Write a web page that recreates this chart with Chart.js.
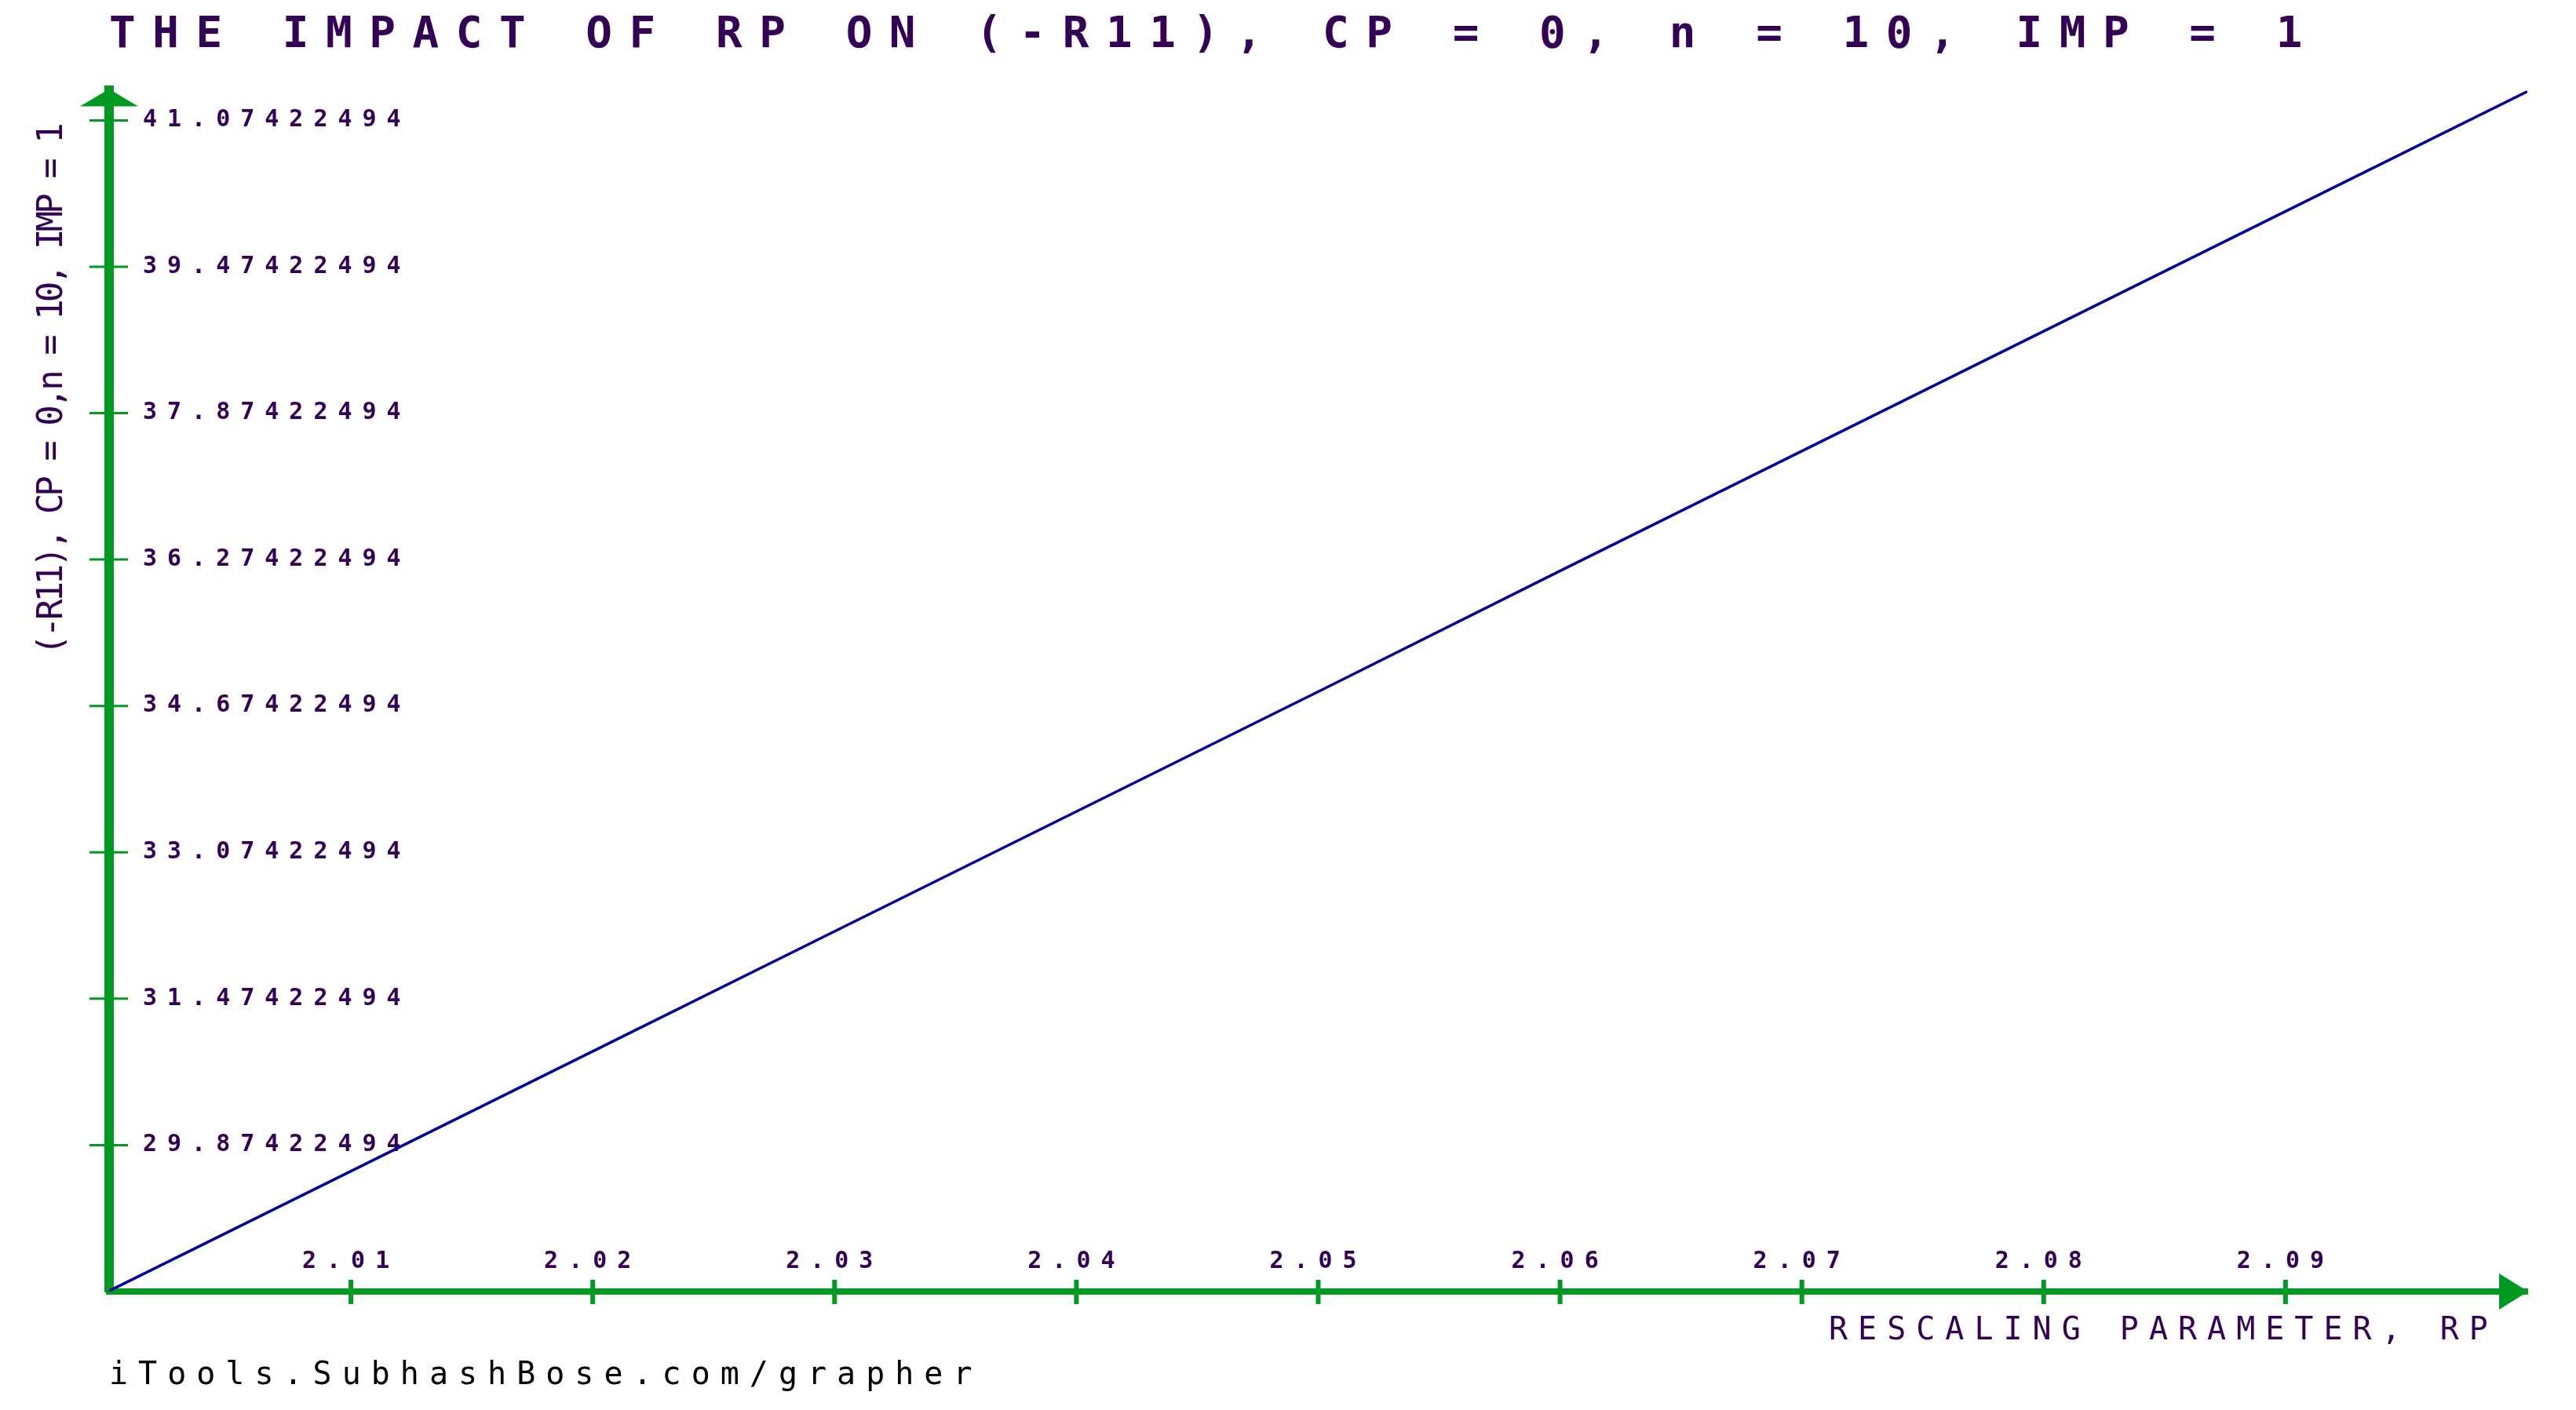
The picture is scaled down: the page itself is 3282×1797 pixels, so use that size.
<!DOCTYPE html>
<html>
<head>
<meta charset="utf-8">
<title>The impact of RP on (-R11)</title>
<script src="https://cdn.jsdelivr.net/npm/chart.js@4.4.1/dist/chart.umd.min.js"></script>
<style>
  html, body { margin: 0; padding: 0; background: #fff; }
  #wrap { width: 3282px; height: 1797px; }
</style>
</head>
<body>
<div id="wrap"><canvas id="grapher" width="3282" height="1797"></canvas></div>
<script>
// RP at each x tick and (-R11)
const rpValues = [2.00, 2.01, 2.02, 2.03, 2.04, 2.05, 2.06, 2.07, 2.08, 2.09, 2.10];
const r11Values = [28.28, 29.59, 30.90, 32.21, 33.52, 34.83, 36.15, 37.46, 38.77, 40.08, 41.39];

const xTickValues = [2.01, 2.02, 2.03, 2.04, 2.05, 2.06, 2.07, 2.08, 2.09];
const xTickLabels = ["2.01", "2.02", "2.03", "2.04", "2.05", "2.06", "2.07", "2.08", "2.09"];
const yTickValues = [29.87422494, 31.47422494, 33.07422494, 34.67422494, 36.27422494, 37.87422494, 39.47422494, 41.07422494];
const yTickLabels = ["29.87422494", "31.47422494", "33.07422494", "34.67422494", "36.27422494", "37.87422494", "39.47422494", "41.07422494"];

const purple = "#330055";
const green = "#009922";
const navy = "#000099";

Chart.defaults.font.family = '"DejaVu Sans Mono", monospace';

// the grapher draws a wide pixel font, so widen the glyphs with letter spacing (px, by font size)
const letterSpacing = { 56: 21.5, 44: -4 };
const pixelFont = {
  id: "pixelFont",
  beforeInit(chart) {
    const ctx = chart.ctx;
    const fillText = ctx.fillText;
    ctx.fillText = function () {
      const size = parseFloat(/([\d.]+)px/.exec(this.font)[1]);
      this.letterSpacing = (letterSpacing[size] ?? 13) + "px";
      return fillText.apply(this, arguments);
    };
  }
};

// tick marks crossing the axes and the arrow heads
const axisMarks = {
  id: "axisMarks",
  afterDraw(chart) {
    const { ctx, scales: { x, y } } = chart;
    ctx.save();
    ctx.strokeStyle = green;
    ctx.fillStyle = green;

    ctx.lineWidth = 3;
    y.ticks.forEach(t => {
      const py = y.getPixelForValue(t.value);
      ctx.beginPath();
      ctx.moveTo(y.right - 25, py);
      ctx.lineTo(y.right + 24, py);
      ctx.stroke();
    });

    ctx.lineWidth = 6;
    x.ticks.forEach(t => {
      const px = x.getPixelForValue(t.value);
      ctx.beginPath();
      ctx.moveTo(px, x.top - 15);
      ctx.lineTo(px, x.top + 16);
      ctx.stroke();
    });

    ctx.beginPath();
    ctx.moveTo(y.right, y.top - 2);
    ctx.lineTo(y.right + 37, y.top + 20);
    ctx.lineTo(y.right - 37, y.top + 20);
    ctx.closePath();
    ctx.fill();

    ctx.beginPath();
    ctx.moveTo(x.right + 1, x.top);
    ctx.lineTo(x.right - 36, x.top - 23);
    ctx.lineTo(x.right - 36, x.top + 23);
    ctx.closePath();
    ctx.fill();
    ctx.restore();
  }
};

new Chart(document.getElementById("grapher"), {
  type: "line",
  data: {
    datasets: [{
      data: rpValues.map((x, i) => ({ x: x, y: r11Values[i] })),
      borderColor: navy,
      borderWidth: 3.5,
      pointRadius: 0,
      fill: false,
      tension: 0
    }]
  },
  options: {
    responsive: false,
    animation: false,
    events: [],
    layout: { padding: { left: 0, right: 62, top: 0, bottom: 19 } },
    plugins: {
      legend: { display: false },
      tooltip: { enabled: false },
      title: {
        display: true,
        text: "THE IMPACT OF RP ON (-R11), CP = 0, n = 10, IMP = 1",
        align: "start",
        fullSize: false,
        color: purple,
        font: { size: 56, weight: "bold" },
        padding: { top: 12, bottom: 36.2 }
      },
      subtitle: {
        display: true,
        text: "iTools.SubhashBose.com/grapher",
        position: "bottom",
        align: "start",
        fullSize: false,
        color: "#000000",
        font: { size: 40, weight: "normal" },
        padding: { top: 4, bottom: 0 }
      }
    },
    scales: {
      x: {
        type: "linear",
        min: 2.0,
        max: 2.1,
        afterBuildTicks: s => { s.ticks = xTickValues.map(v => ({ value: v })); },
        afterFit: s => { s.height = 80; },
        grid: { display: false },
        border: { display: true, color: green, width: 8 },
        ticks: {
          mirror: true,
          padding: 20,
          autoSkip: false,
          maxRotation: 0,
          color: purple,
          font: { size: 30, weight: "bold" },
          callback: (v, i) => xTickLabels[i]
        },
        title: {
          display: true,
          text: "RESCALING PARAMETER, RP ",
          align: "end",
          color: purple,
          font: { size: 40, weight: "normal" },
          padding: { top: 0, bottom: 5 }
        }
      },
      y: {
        type: "linear",
        min: 28.27422494,
        max: 41.4,
        afterBuildTicks: s => { s.ticks = yTickValues.map(v => ({ value: v })); },
        afterFit: s => { s.width = 139; },
        grid: { display: false },
        border: { display: true, color: green, width: 12 },
        ticks: {
          mirror: true,
          padding: 43,
          color: purple,
          font: { size: 30, weight: "bold" },
          callback: (v, i) => yTickLabels[i]
        },
        title: {
          display: true,
          text: "(-R11), CP = 0,n = 10, IMP = 1  ",
          align: "end",
          color: purple,
          font: { size: 44, weight: "normal" },
          padding: { top: 41.6, bottom: 0 }
        }
      }
    }
  },
  plugins: [pixelFont, axisMarks]
});
</script>
</body>
</html>
